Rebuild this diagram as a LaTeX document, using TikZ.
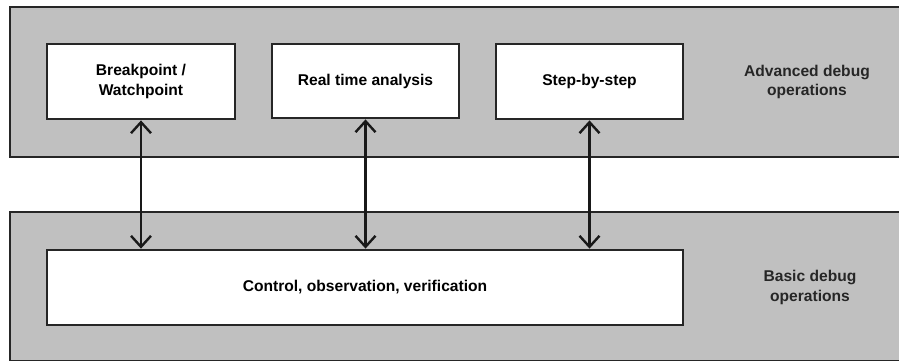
\documentclass[tikz,border=0pt]{standalone}
\usepackage{fontspec}
\setmainfont{Liberation Sans}
\usetikzlibrary{arrows.meta}
\definecolor{bandgray}{HTML}{C0C0C0}
\tikzset{
  band/.style={draw=black!85, line width=1.8pt, fill=bandgray},
  opbox/.style={draw=black!85, line width=1.8pt, fill=white, rectangle, inner sep=0pt, align=center, font=\fontsize{15.6}{19.5}\selectfont\bfseries},
  bandlabel/.style={align=center, font=\fontsize{15.6}{19.5}\selectfont\bfseries, text=black!85},
  biarrow/.style={line width=2.6pt, draw=black!90, {Straight Barb[length=11pt,width=20pt,line width=2.4pt]}-{Straight Barb[length=11pt,width=20pt,line width=2.4pt]}, shorten <=0.5pt, shorten >=0.5pt}
}
\begin{document}
\begin{tikzpicture}[x=1pt,y=-1pt]
\useasboundingbox (0,0) rectangle (899,362);
\fill[white] (0,0) rectangle (899,362);
% bands
\draw[band] (10,7) rectangle (910,157);
\draw[band] (10,212) rectangle (910,360.5);
% top boxes
\node[opbox, minimum width=188pt, minimum height=75pt] (bp) at (141,81.5) {Breakpoint /\\Watchpoint};
\node[opbox, minimum width=187pt, minimum height=74pt] (rt) at (365.5,81) {Real time analysis};
\node[opbox, minimum width=187pt, minimum height=75pt] (ss) at (589.5,81.5) {Step-by-step};
% bottom box
\node[opbox, minimum width=636pt, minimum height=75pt] (cov) at (365,287.5) {Control, observation, verification};
% labels
\node[bandlabel] (adv) at (807,82) {Advanced debug\\operations};
\node[bandlabel] (basic) at (810,287.5) {Basic debug\\operations};
% arrows
\draw[biarrow] (bp.south) -- (bp.south |- cov.north);
\draw[biarrow] (rt.south) -- (rt.south |- cov.north);
\draw[biarrow] (ss.south) -- (ss.south |- cov.north);
\end{tikzpicture}
\end{document}
